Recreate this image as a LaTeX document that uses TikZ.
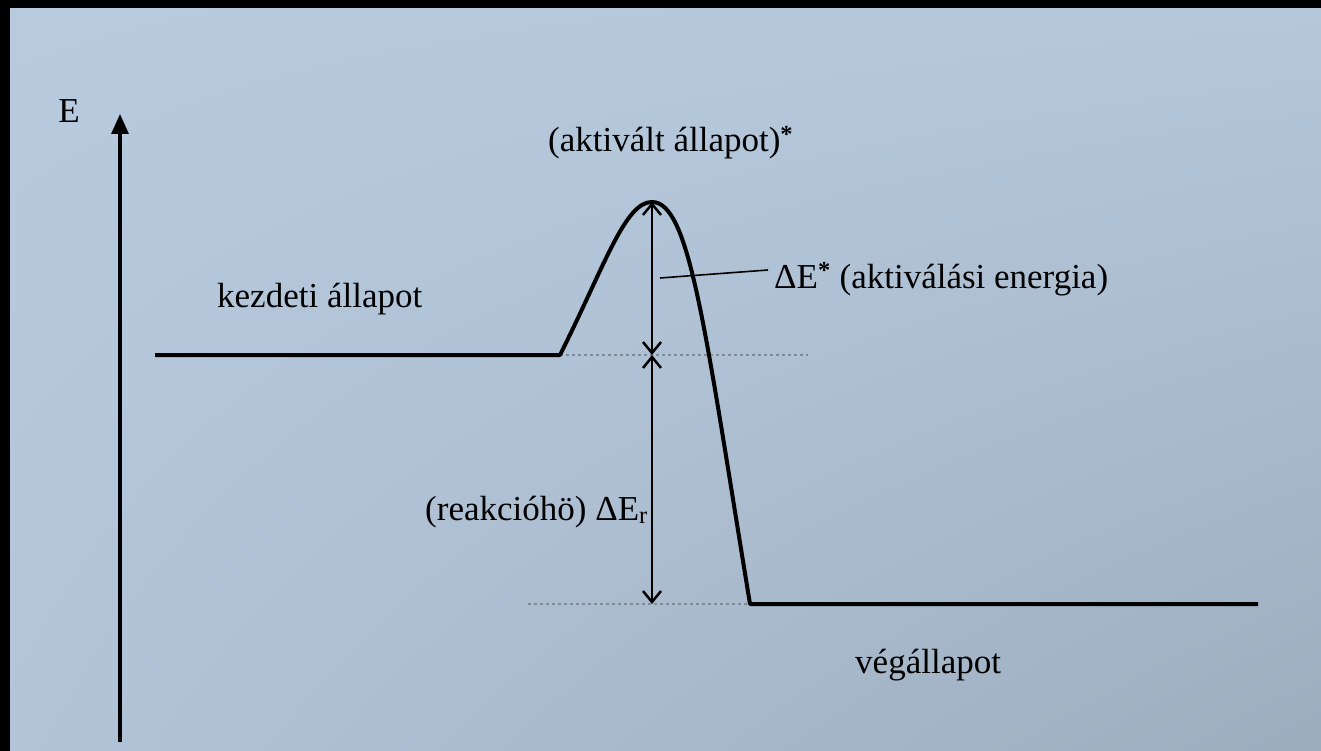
\documentclass[tikz,border=0pt]{standalone}
\usepackage{fontspec}
\setmainfont{Liberation Serif}
\usetikzlibrary{arrows.meta,shadings}
\definecolor{bgTL}{HTML}{B8CADE}
\definecolor{bgTR}{HTML}{B5C7DA}
\definecolor{bgBL}{HTML}{B2C4D7}
\definecolor{bgBR}{HTML}{9CADBE}
\definecolor{dotgray}{HTML}{7E8A96}
\tikzset{
  lbl/.style={inner sep=0pt, anchor=base west, font=\fontsize{35}{42}\selectfont},
  levelline/.style={line width=4pt},
  guide/.style={dotgray, line width=1.2pt, dash pattern=on 3pt off 3pt},
  measure/.style={line width=2.5pt, {Straight Barb[length=11pt,width=18pt,line width=2.5pt]}-{Straight Barb[length=11pt,width=18pt,line width=2.5pt]}},
  axisline/.style={line width=3.2pt, -{Triangle[length=20pt,width=17pt]}},
  leader/.style={line width=1.6pt}
}
\newcommand{\mystar}{\textsuperscript{\textbf{*}}}
\begin{document}
\begin{tikzpicture}[x=1pt,y=-1pt]
\useasboundingbox (0,0) rectangle (1321,751);
\fill[black] (0,0) rectangle (1321,751);
\shade[upper left=bgTL, upper right=bgTR, lower left=bgBL, lower right=bgBR] (10,9) rectangle (1321,751);

% coordinates
\coordinate (axb) at (120,742);
\coordinate (axt) at (120,114);
\coordinate (l1a) at (155,355);
\coordinate (l1b) at (560,355);
\coordinate (peak) at (652,202);
\coordinate (l2a) at (750,604);
\coordinate (l2b) at (1258,604);
\coordinate (g1e) at (808,355);
\coordinate (g2s) at (528,604);
\coordinate (m1) at (652,355);
\coordinate (m2) at (652,604);
\coordinate (lda) at (660,278);
\coordinate (ldb) at (768,270);

% axis
\draw[axisline] (axb) -- (axt);
\node[lbl, anchor=base] (elbl) at (69,123) {E};

% guides
\draw[guide] (l1b) -- (g1e);
\draw[guide] (g2s) -- (l2a);

% energy profile
\draw[levelline, line join=round] (l1a) -- (l1b)
  .. controls (605,265) and (625,202) .. (peak)
  .. controls (690,202) and (705,330) .. (l2a) -- (l2b);

% measurements
\draw[measure] (peak) -- (m1);
\draw[measure] (m1) -- (m2);
\draw[leader] (lda) -- (ldb);

% labels
\node[lbl] (act) at (548,152) {(aktivált állapot)\mystar};
\node[lbl] (kezd) at (217,307) {kezdeti állapot};
\node[lbl] (dea) at (774,288) {ΔE\mystar\ (aktiválási energia)};
\node[lbl] (reak) at (425,520) {(reakcióhö) ΔE\textsubscript{r}};
\node[lbl] (veg) at (855,673) {végállapot};
\end{tikzpicture}
\end{document}
